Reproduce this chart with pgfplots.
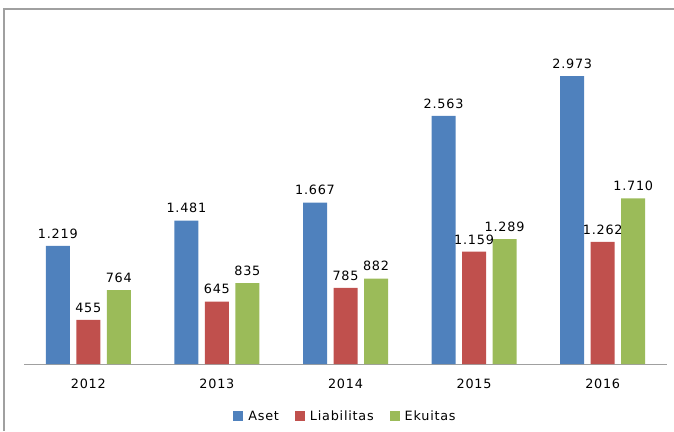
\documentclass[border=0pt]{standalone}
\usepackage{pgfplots}
\pgfplotsset{compat=1.18}
\usepackage{fontspec}
\setmainfont{DejaVu Sans}[LetterSpace=6]

\definecolor{aset}{HTML}{4F81BD}
\definecolor{liab}{HTML}{C0504D}
\definecolor{ekui}{HTML}{9BBB59}
\definecolor{framegray}{HTML}{A0A0A0}

\begin{document}
\begin{tikzpicture}[font=\fontsize{12.8pt}{15pt}\selectfont]
\useasboundingbox (0,0) rectangle (674pt,431pt);
% chart frame (cut off at right and bottom)
\draw[framegray, line width=1.3pt] (4pt,0pt) -- (4pt,422pt) -- (676pt,422pt);
\begin{axis}[
  at={(24pt,67pt)}, anchor=south west,
  scale only axis,
  width=643pt, height=339pt,
  xmin=-0.5, xmax=4.5,
  ymin=0, ymax=3500,
  axis x line*=bottom,
  hide y axis,
  axis line style={framegray, line width=1pt},
  xtick=data,
  xticklabels={2012,2013,2014,2015,2016},
  xtick style={draw=none},
  xticklabel style={yshift=-7pt},
  ybar, bar width=24pt,
  /pgf/number format/assume math mode=true,
  nodes near coords={\pgfmathprintnumber[fixed,precision=0,1000 sep={.},assume math mode=true]{\pgfplotspointmeta}},
  every node near coord/.append style={yshift=4pt},
  legend style={at={(0.5,-0.155)}, anchor=center, draw=none,
    legend columns=3,
    /tikz/every odd column/.append style={column sep=3pt},
    /tikz/every even column/.append style={column sep=14pt}},
  legend image code/.code={\fill[#1] (0pt,-4pt) rectangle (10pt,6pt);},
]
\addplot[fill=aset, draw=none, bar shift=-30.5pt] coordinates
  {(0,1219) (1,1481) (2,1667) (3,2563) (4,2973)};
\addlegendentry{Aset}
\addplot[fill=liab, draw=none, bar shift=0pt] coordinates
  {(0,455) (1,645) (2,785) (3,1159) (4,1262)};
\addlegendentry{Liabilitas}
\addplot[fill=ekui, draw=none, bar shift=30.5pt] coordinates
  {(0,764) (1,835) (2,882) (3,1289) (4,1710)};
\addlegendentry{Ekuitas}
\end{axis}
\end{tikzpicture}
\end{document}
